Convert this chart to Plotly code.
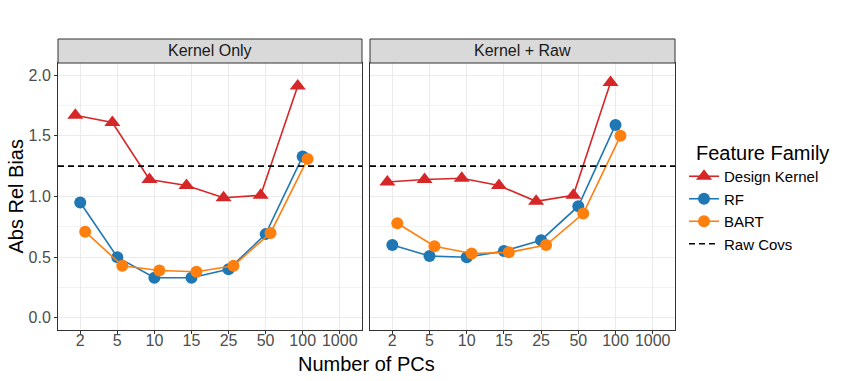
import plotly.graph_objects as go
from plotly.subplots import make_subplots

n_pcs = ["2", "5", "10", "15", "25", "50", "100", "1000"]
facets = ["Kernel Only", "Kernel + Raw"]

kernel_only_design = [1.67, 1.61, 1.14, 1.09, 0.99, 1.01, 1.91]
kernel_only_rf = [0.95, 0.50, 0.33, 0.33, 0.40, 0.69, 1.33]
kernel_only_bart = [0.71, 0.43, 0.39, 0.38, 0.43, 0.70, 1.31]

kernel_raw_design = [1.12, 1.14, 1.15, 1.09, 0.96, 1.01, 1.94]
kernel_raw_rf = [0.60, 0.51, 0.50, 0.55, 0.64, 0.92, 1.59]
kernel_raw_bart = [0.78, 0.59, 0.53, 0.54, 0.60, 0.86, 1.50]

raw_covs = 1.25

data = {
    "Kernel Only": {"Design Kernel": kernel_only_design, "RF": kernel_only_rf, "BART": kernel_only_bart},
    "Kernel + Raw": {"Design Kernel": kernel_raw_design, "RF": kernel_raw_rf, "BART": kernel_raw_bart},
}

dodge = 0.4 / 3
styles = {
    "Design Kernel": dict(color="#D62728", symbol="triangle-up", size=14, offset=-dodge),
    "RF": dict(color="#1F77B4", symbol="circle", size=12, offset=0),
    "BART": dict(color="#FF7F0E", symbol="circle", size=12, offset=dodge),
}

W, H = 847, 381
FONT = "Liberation Sans, Arial, sans-serif"
x_range = [-0.6, len(n_pcs) - 1 + 0.6]
y_range = [-0.1, 2.1]

fig = make_subplots(rows=1, cols=2, shared_yaxes=True)

for col, facet in enumerate(facets, start=1):
    for name, vals in data[facet].items():
        st = styles[name]
        fig.add_trace(
            go.Scatter(
                x=[i + st["offset"] for i in range(len(vals))],
                y=vals,
                mode="lines+markers",
                name=name,
                legendgroup=name,
                showlegend=(col == 1),
                line=dict(color=st["color"], width=1.6),
                marker=dict(color=st["color"], symbol=st["symbol"], size=st["size"], line=dict(width=0)),
            ),
            row=1, col=col,
        )
    fig.add_trace(
        go.Scatter(
            x=x_range,
            y=[raw_covs, raw_covs],
            mode="lines",
            name="Raw Covs",
            legendgroup="Raw Covs",
            showlegend=(col == 1),
            line=dict(color="black", width=1.6, dash="6px,4px"),
        ),
        row=1, col=col,
    )

# panel positions in pixels
panels = [(58, 362), (370, 675)]
panel_top, panel_bottom = 63, 330
strip_top = 39

fig.update_xaxes(
    range=x_range,
    automargin=False,
    tickmode="array",
    tickvals=list(range(len(n_pcs))),
    ticktext=n_pcs,
    showgrid=True,
    gridcolor="#EBEBEB",
    gridwidth=1,
    zeroline=False,
    showline=True,
    mirror=True,
    linecolor="#333333",
    linewidth=1,
    ticks="outside",
    ticklen=3,
    tickcolor="#333333",
    ticklabelstandoff=-7,
    tickfont=dict(size=16, color="#4D4D4D", family=FONT),
)
fig.update_yaxes(
    range=y_range,
    automargin=False,
    tickmode="array",
    tickvals=[0, 0.5, 1.0, 1.5, 2.0],
    tickformat=".1f",
    showgrid=True,
    gridcolor="#EBEBEB",
    gridwidth=1,
    minor=dict(tickmode="array", tickvals=[0.25, 0.75, 1.25, 1.75], showgrid=True,
               gridcolor="#F2F2F2", gridwidth=0.6, ticks=""),
    zeroline=False,
    showline=True,
    mirror=True,
    linecolor="#333333",
    linewidth=1,
    tickfont=dict(size=16, color="#4D4D4D", family=FONT),
)
fig.update_yaxes(ticks="outside", ticklen=3, tickcolor="#333333", row=1, col=1)
fig.update_yaxes(ticks="", showticklabels=False, row=1, col=2)

y_dom = [(H - panel_bottom) / H, (H - panel_top) / H]
fig.update_layout(
    xaxis=dict(domain=[panels[0][0] / W, panels[0][1] / W]),
    xaxis2=dict(domain=[panels[1][0] / W, panels[1][1] / W]),
    yaxis=dict(domain=y_dom),
    yaxis2=dict(domain=y_dom),
)

shapes = []
annotations = []
for (x0, x1), facet in zip(panels, facets):
    shapes.append(dict(
        type="rect", xref="paper", yref="paper",
        x0=x0 / W, x1=x1 / W, y0=(H - panel_top) / H, y1=(H - strip_top) / H,
        fillcolor="#D9D9D9", line=dict(color="#333333", width=1), layer="above",
    ))
    annotations.append(dict(
        text=facet, xref="paper", yref="paper", showarrow=False,
        x=(x0 + x1) / 2 / W, y=(H - (panel_top + strip_top) / 2) / H,
        xanchor="center", yanchor="middle",
        font=dict(size=16, color="#1A1A1A", family=FONT),
    ))

annotations.append(dict(
    text="Number of PCs", xref="paper", yref="paper", showarrow=False,
    x=(panels[0][0] + panels[1][1]) / 2 / W, y=(H - 364) / H,
    xanchor="center", yanchor="middle",
    font=dict(size=20, color="black", family=FONT),
))
annotations.append(dict(
    text="Abs Rel Bias", xref="paper", yref="paper", showarrow=False,
    x=15 / W, y=(H - (panel_top + panel_bottom) / 2) / H, textangle=-90,
    xanchor="center", yanchor="middle",
    font=dict(size=20, color="black", family=FONT),
))
# legend title drawn as text so it lines up with the keys like ggplot does
annotations.append(dict(
    text="Feature Family", xref="paper", yref="paper", showarrow=False,
    x=694 / W, y=(H - 153) / H,
    xanchor="left", yanchor="middle",
    font=dict(size=20, color="black", family=FONT),
))

fig.update_layout(
    width=W,
    height=H,
    margin=dict(l=0, r=0, t=0, b=0),
    plot_bgcolor="white",
    paper_bgcolor="white",
    font=dict(family=FONT, size=16, color="black"),
    shapes=shapes,
    annotations=annotations,
    legend=dict(
        font=dict(size=15, color="black"),
        x=684 / W,
        y=(H - 160) / H,
        xanchor="left",
        yanchor="top",
        tracegroupgap=0,
        itemwidth=30,
        bgcolor="rgba(0,0,0,0)",
    ),
)

# the page body has a default 8px margin; drop it so the figure fills the window
fig.write_html(
    "out.html",
    config={"displayModeBar": False},
    post_script="document.body.style.margin = '0';",
)
